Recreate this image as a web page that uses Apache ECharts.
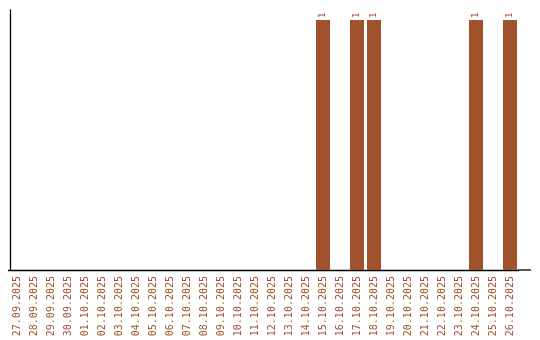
<!DOCTYPE html>
<html><head><meta charset="utf-8">
<script src="https://cdn.jsdelivr.net/npm/echarts@6/dist/echarts.min.js"></script>
<style>html,body{margin:0;padding:0;background:#fff}#c{width:540px;height:340px}</style>
</head><body><div id="c"></div>
<script>
const categories = ["27.09.2025","28.09.2025","29.09.2025","30.09.2025","01.10.2025","02.10.2025","03.10.2025","04.10.2025","05.10.2025","06.10.2025","07.10.2025","08.10.2025","09.10.2025","10.10.2025","11.10.2025","12.10.2025","13.10.2025","14.10.2025","15.10.2025","16.10.2025","17.10.2025","18.10.2025","19.10.2025","20.10.2025","21.10.2025","22.10.2025","23.10.2025","24.10.2025","25.10.2025","26.10.2025"];
const values = [0,0,0,0,0,0,0,0,0,0,0,0,0,0,0,0,0,0,1,0,1,1,0,0,0,0,0,1,0,1];
const color = '#A0522D';
const chart = echarts.init(document.getElementById('c'), null, {renderer:'canvas'});
chart.setOption({
  animation:false,
  grid:{left:8.5, width:510, top:10, bottom:70, containLabel:false},
  xAxis:{type:'category', data:categories,
    axisLine:{show:true, lineStyle:{color:'#000', width:1.3}},
    axisTick:{show:false},
    axisLabel:{rotate:90, interval:0, color:color, fontFamily:'DejaVu Sans Mono', fontSize:10, margin:6}
  },
  yAxis:{type:'value', min:0, max:1.04, offset:-1.5, splitLine:{show:false},
    axisLine:{show:true, lineStyle:{color:'#000', width:1.3}},
    axisTick:{show:false}, axisLabel:{show:false}},
  series:[{type:'bar', data:values.map(v=>v===0?null:v), itemStyle:{color:color}, barWidth:14,
    label:{show:true, position:'top', rotate:90, align:'left', verticalAlign:'middle', distance:2,
      color:color, fontFamily:'DejaVu Sans Mono', fontSize:9}}],
  graphic:[{type:'line', shape:{x1:518, y1:270, x2:531, y2:270}, style:{stroke:'#000', lineWidth:1.3}}]
});
</script></body></html>
